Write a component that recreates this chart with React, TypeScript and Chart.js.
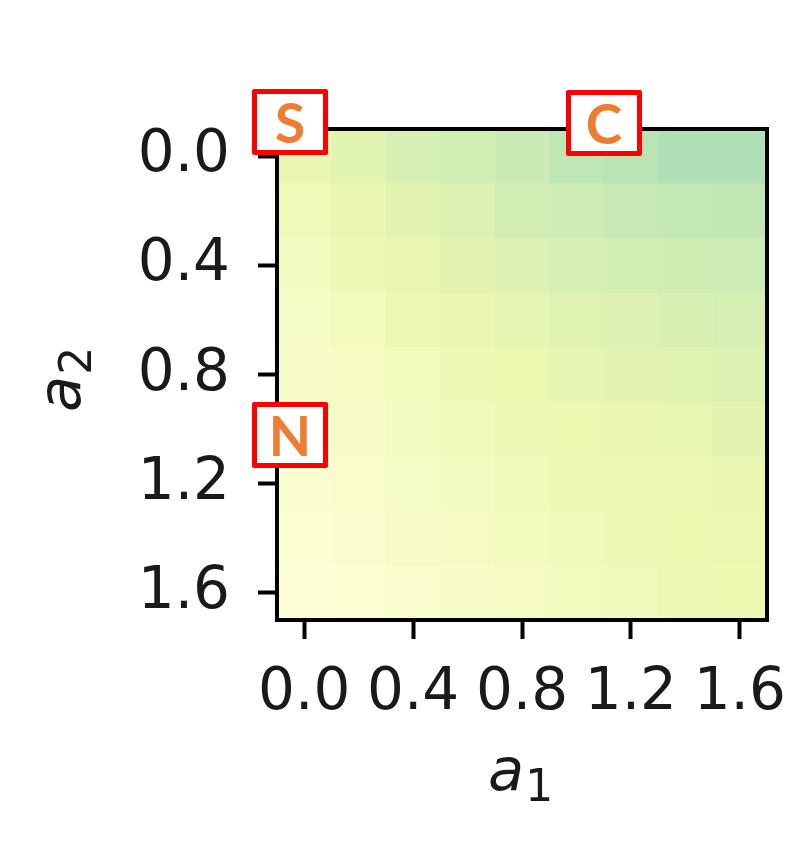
import React, { useEffect, useRef } from 'react';
import { Chart, registerables } from 'chart.js';

Chart.register(...registerables);

// a1 (columns) and a2 (rows) grid values
const a1Values = [0, 0.2, 0.4, 0.6, 0.8, 1.0, 1.2, 1.4, 1.6];
const a2Values = [0, 0.2, 0.4, 0.6, 0.8, 1.0, 1.2, 1.4, 1.6];
const tickValues = [0, 0.4, 0.8, 1.2, 1.6];

// cell values (position on the YlGnBu colour scale), one array per a2 row
const rowA2_00 = [0.135, 0.161, 0.194, 0.22, 0.237, 0.264, 0.271, 0.288, 0.292];
const rowA2_02 = [0.104, 0.135, 0.157, 0.176, 0.214, 0.23, 0.247, 0.255, 0.259];
const rowA2_04 = [0.076, 0.111, 0.132, 0.157, 0.176, 0.2, 0.21, 0.224, 0.23];
const rowA2_06 = [0.0625, 0.09, 0.118, 0.132, 0.148, 0.171, 0.181, 0.191, 0.204];
const rowA2_08 = [0.049, 0.069, 0.09, 0.111, 0.125, 0.148, 0.157, 0.164, 0.181];
const rowA2_10 = [0.042, 0.056, 0.076, 0.097, 0.111, 0.125, 0.132, 0.145, 0.157];
const rowA2_12 = [0.028, 0.042, 0.0625, 0.076, 0.097, 0.111, 0.118, 0.128, 0.135];
const rowA2_14 = [0.021, 0.035, 0.049, 0.069, 0.083, 0.097, 0.111, 0.125, 0.128];
const rowA2_16 = [0.014, 0.021, 0.035, 0.056, 0.069, 0.083, 0.097, 0.111, 0.125];

const rows = [rowA2_00, rowA2_02, rowA2_04, rowA2_06, rowA2_08, rowA2_10, rowA2_12, rowA2_14, rowA2_16];

// annotation labels
const markerLabels = ['S', 'C', 'N'];

const YLGNBU = ['#ffffd9', '#edf8b1', '#c7e9b4', '#7fcdbb', '#41b6c4', '#1d91c0', '#225ea8', '#253494', '#081d58'];

function hexToRgb(h: string) {
  const n = parseInt(h.slice(1), 16);
  return [(n >> 16) & 255, (n >> 8) & 255, n & 255];
}

function colormap(v: number) {
  const t = Math.max(0, Math.min(1, v)) * (YLGNBU.length - 1);
  const i = Math.min(Math.floor(t), YLGNBU.length - 2);
  const f = t - i;
  const a = hexToRgb(YLGNBU[i]);
  const b = hexToRgb(YLGNBU[i + 1]);
  const c = a.map((x, k) => Math.round(x + (b[k] - x) * f));
  return `rgb(${c[0]},${c[1]},${c[2]})`;
}

const HALF = 0.1;

const heatmapPlugin = {
  id: 'heatmapCells',
  beforeDatasetsDraw(chart: any) {
    const { ctx, chartArea, scales } = chart;
    const xs = scales.x;
    const ys = scales.y;
    ctx.save();
    ctx.beginPath();
    ctx.rect(chartArea.left, chartArea.top, chartArea.width, chartArea.height);
    ctx.clip();
    chart.data.datasets[0].data.forEach((p: any) => {
      const x0 = xs.getPixelForValue(p.x - HALF);
      const x1 = xs.getPixelForValue(p.x + HALF);
      const y0 = ys.getPixelForValue(p.y - HALF);
      const y1 = ys.getPixelForValue(p.y + HALF);
      ctx.fillStyle = colormap(p.v);
      ctx.fillRect(Math.min(x0, x1), Math.min(y0, y1), Math.abs(x1 - x0) + 0.6, Math.abs(y1 - y0) + 0.6);
    });
    ctx.restore();
  },
  afterDraw(chart: any) {
    const { ctx, chartArea } = chart;
    ctx.save();
    ctx.strokeStyle = '#000';
    ctx.lineWidth = 4;
    ctx.strokeRect(chartArea.left, chartArea.top, chartArea.width, chartArea.height);
    ctx.restore();
  },
};

const AxisTitle = ({ sub }: { sub: string }) => (
  <>
    <span style={{ fontStyle: 'italic', fontSize: 59 }}>a</span>
    <span style={{ fontSize: 44, position: 'relative', top: 11, marginLeft: 1 }}>{sub}</span>
  </>
);

export default function App() {
  const ref = useRef<HTMLCanvasElement | null>(null);

  useEffect(() => {
    if (!ref.current) return;
    const points: any[] = [];
    rows.forEach((row, r) => {
      row.forEach((v, c) => {
        points.push({ x: a1Values[c], y: a2Values[r], v });
      });
    });
    const tickFont = { family: '"DejaVu Sans", sans-serif', size: 58 };
    const chart = new Chart(ref.current, {
      type: 'scatter',
      data: {
        datasets: [
          {
            data: points,
            pointRadius: 0,
            pointHoverRadius: 0,
          },
        ],
      },
      plugins: [heatmapPlugin],
      options: {
        animation: false,
        responsive: false,
        devicePixelRatio: 1,
        events: [],
        layout: { padding: { left: 0, top: 129, right: 21, bottom: 0 } },
        plugins: { legend: { display: false }, tooltip: { enabled: false } },
        scales: {
          x: {
            type: 'linear',
            min: -0.1,
            max: 1.7,
            afterBuildTicks: (scale: any) => {
              scale.ticks = tickValues.map((v) => ({ value: v }));
            },
            afterFit: (scale: any) => {
              scale.height = 238;
              scale.paddingLeft = 0;
              scale.paddingRight = 0;
            },
            ticks: {
              autoSkip: false,
              maxRotation: 0,
              minRotation: 0,
              padding: 20,
              color: '#1a1a1a',
              font: tickFont,
              callback: (v: any) => Number(v).toFixed(1),
            },
            grid: {
              drawOnChartArea: false,
              drawTicks: true,
              tickLength: 19,
              tickWidth: 4,
              tickColor: '#000',
            },
            border: { display: false },
          },
          y: {
            type: 'linear',
            reverse: true,
            min: -0.1,
            max: 1.7,
            afterBuildTicks: (scale: any) => {
              scale.ticks = tickValues.map((v) => ({ value: v }));
            },
            afterFit: (scale: any) => {
              scale.width = 277;
              scale.paddingTop = 0;
              scale.paddingBottom = 0;
            },
            ticks: {
              autoSkip: false,
              padding: 28,
              color: '#1a1a1a',
              font: tickFont,
              callback: (v: any) => Number(v).toFixed(1),
            },
            grid: {
              drawOnChartArea: false,
              drawTicks: true,
              tickLength: 19,
              tickWidth: 4,
              tickColor: '#000',
            },
            border: { display: false },
          },
        },
      },
    });
    return () => chart.destroy();
  }, []);

  const boxStyle = (left: number, top: number): React.CSSProperties => ({
    position: 'absolute',
    left,
    top,
    width: 76,
    height: 66,
    boxSizing: 'border-box',
    border: '5px solid #ff0000',
    borderRadius: 2,
    background: '#ffffff',
    color: '#ed7d31',
    fontFamily: 'Lato, "Open Sans", sans-serif',
    fontWeight: 700,
    fontSize: 55,
    lineHeight: '57px',
    textAlign: 'center',
  });

  const boxPositions = [
    [252, 89],
    [566, 90],
    [252, 402],
  ];

  const titleBase: React.CSSProperties = {
    position: 'absolute',
    fontFamily: '"DejaVu Sans", sans-serif',
    color: '#1a1a1a',
    lineHeight: 1,
    fontSize: 59,
    whiteSpace: 'nowrap',
  };

  return (
    <div style={{ position: 'fixed', left: 0, top: 0, width: 788, height: 858, background: '#fff' }}>
      <canvas ref={ref} width={788} height={858} style={{ display: 'block', width: 788, height: 858 }} />
      <div style={{ ...titleBase, left: 488, top: 740 }}>
        <AxisTitle sub="1" />
      </div>
      <div
        style={{
          ...titleBase,
          left: 30,
          top: 412,
          transform: 'rotate(-90deg)',
          transformOrigin: 'left top',
        }}
      >
        <AxisTitle sub="2" />
      </div>
      {markerLabels.map((t, i) => (
        <div key={t} style={boxStyle(boxPositions[i][0], boxPositions[i][1])}>
          {t}
        </div>
      ))}
    </div>
  );
}
